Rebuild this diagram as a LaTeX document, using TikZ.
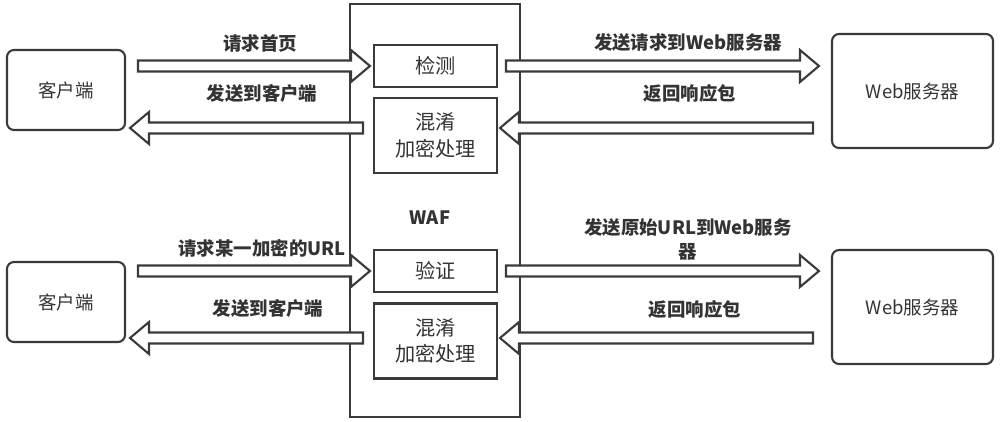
\documentclass[tikz,border=0pt]{standalone}
\usepackage{fontspec}
\setmainfont{Noto Sans CJK SC}
\usetikzlibrary{calc}

\definecolor{linegray}{HTML}{3A3A3A}
\definecolor{textgray}{HTML}{333333}

\tikzset{
  frame/.style={draw=linegray, line width=1.2pt, text=textgray},
  endbox/.style={frame, rounded corners=4pt, font=\fontsize{10.5}{12}\selectfont},
  stagebox/.style={frame, minimum width=24.6mm, font=\fontsize{11.5}{15}\selectfont, align=center},
  flowlabel/.style={text=textgray, font=\bfseries\fontsize{10.5}{14}\selectfont, align=center},
  blockarrow/.style={draw=linegray, fill=white, line width=1.2pt, line join=miter},
}

% hollow block arrow from #1 to #2
\newcommand\bigarrow[2]{%
  \filldraw[blockarrow] let \p1=(#1), \p2=(#2), \n1={sign(\x2-\x1)} in
    (\x1,\y1+1.1mm) -- (\x2-\n1*3.8mm,\y1+1.1mm) -- (\x2-\n1*3.8mm,\y1+3.2mm)
    -- (\x2,\y1) -- (\x2-\n1*3.8mm,\y1-3.2mm) -- (\x2-\n1*3.8mm,\y1-1.1mm)
    -- (\x1,\y1-1.1mm) -- cycle;}

\begin{document}
\begin{tikzpicture}[x=0.02cm, y=-0.02cm]
    \useasboundingbox (0,0) rectangle (1000,422);

    % WAF
    \node[frame, minimum width=34mm, minimum height=82.6mm] (waf) at (435,210.5) {};
    \node[text=textgray, font=\bfseries\fontsize{10.5}{12}\selectfont] (waflabel) at (430,218) {WAF};

    % Clients and servers
    \node[endbox, minimum width=23.6mm, minimum height=16mm] (client1) at (66,90) {客户端};
    \node[endbox, minimum width=23.6mm, minimum height=16mm] (client2) at (66,302) {客户端};
    \node[endbox, minimum width=32.2mm, minimum height=22.8mm] (server1) at (912.5,91) {Web服务器};
    \node[endbox, minimum width=32.2mm, minimum height=22.8mm] (server2) at (912.5,307) {Web服务器};

    % Stages inside WAF
    \node[stagebox, minimum height=8.4mm] (detect) at (435.5,66) {检测};
    \node[stagebox, minimum height=15mm] (obf1) at (435.5,135.5) {混淆\\加密处理};
    \node[stagebox, minimum height=8.4mm] (verify) at (435.5,271) {验证};
    \node[stagebox, minimum height=15mm] (obf2) at (435.5,341) {混淆\\加密处理};

    % Arrow ends
    \coordinate (req1s) at ($(client1.east |- detect)+(12,0)$);
    \coordinate (req1e) at ($(detect.west)+(-3,0)$);
    \coordinate (ret1s) at (363,128);
    \coordinate (ret1e) at (130,128);
    \coordinate (fwd1s) at ($(detect.east)+(8,0)$);
    \coordinate (fwd1e) at ($(server1.west |- detect)+(-12,0)$);
    \coordinate (resp1s) at (813,128);
    \coordinate (resp1e) at (500,128);

    \coordinate (req2s) at ($(client2.east |- verify)+(12,0)$);
    \coordinate (req2e) at ($(verify.west)+(-3,0)$);
    \coordinate (ret2s) at (363,338);
    \coordinate (ret2e) at (130,338);
    \coordinate (fwd2s) at ($(verify.east)+(8,0)$);
    \coordinate (fwd2e) at ($(server2.west |- verify)+(-12,0)$);
    \coordinate (resp2s) at (813,338);
    \coordinate (resp2e) at (500,338);

    % Arrows
    \bigarrow{req1s}{req1e}
    \bigarrow{ret1s}{ret1e}
    \bigarrow{fwd1s}{fwd1e}
    \bigarrow{resp1s}{resp1e}
    \bigarrow{req2s}{req2e}
    \bigarrow{ret2s}{ret2e}
    \bigarrow{fwd2s}{fwd2e}
    \bigarrow{resp2s}{resp2e}

    % Labels
    \node[flowlabel] (l1) at (260,43) {请求首页};
    \node[flowlabel] (l2) at (262,93) {发送到客户端};
    \node[flowlabel] (l3) at (688,43) {发送请求到Web服务器};
    \node[flowlabel] (l4) at (690,93) {返回响应包};
    \node[flowlabel] (l5) at (262,248) {请求某一加密的URL};
    \node[flowlabel] (l6) at (268,308) {发送到客户端};
    \node[flowlabel] (l7) at (688,239.5) {发送原始URL到Web服务\\器};
    \node[flowlabel] (l8) at (695,309) {返回响应包};
\end{tikzpicture}
\end{document}
